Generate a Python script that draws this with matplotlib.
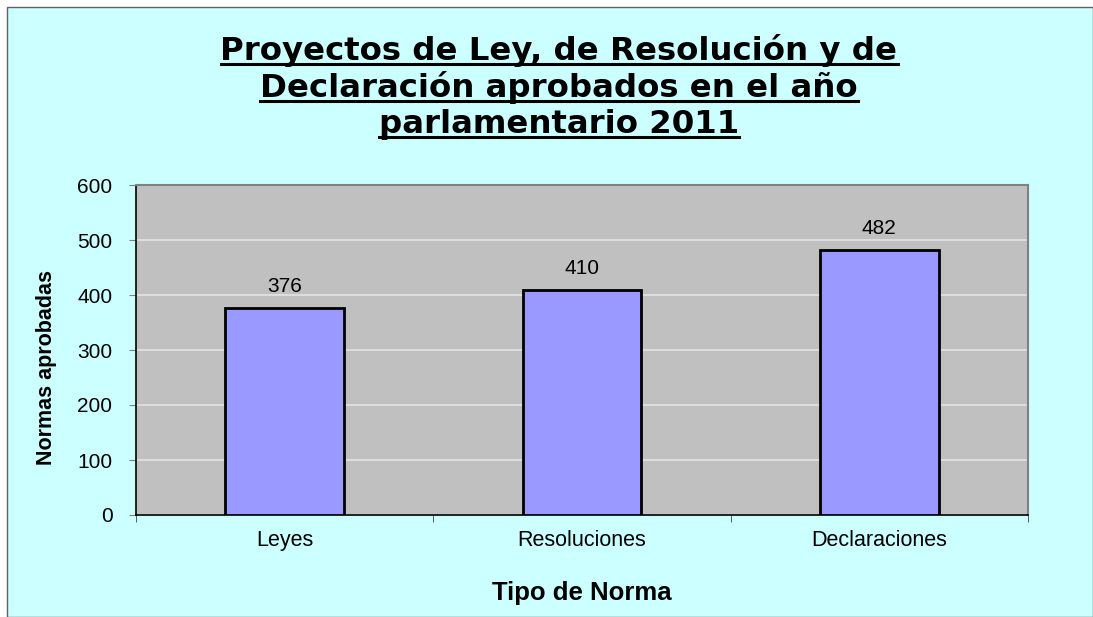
import matplotlib
matplotlib.use("Agg")
import matplotlib.pyplot as plt
from matplotlib import font_manager
from matplotlib.lines import Line2D
from matplotlib.patches import Rectangle
import numpy as np

categories = ["Leyes", "Resoluciones", "Declaraciones"]
values = [376, 410, 482]
title_lines = ["Proyectos de Ley, de Resolución y de",
               "Declaración aprobados en el año",
               "parlamentario 2011"]

plt.rcParams['font.family'] = ['Liberation Sans', 'DejaVu Sans']

installed = {f.name for f in font_manager.fontManager.ttflist}
narrow = 'Liberation Sans Narrow' in installed

fig = plt.figure(figsize=(10.93, 6.17), dpi=100)
fig.patch.set_facecolor('white')
# cyan chart area with border
fig.patches.append(Rectangle((7/1093, 0), 1 - 7/1093, 1 - 7/617, transform=fig.transFigure,
                             facecolor='#CCFFFF', edgecolor='#606060', linewidth=1, zorder=-5))

ax = fig.add_axes([136/1093, 1 - 515/617, 892/1093, 330/617])
ax.set_facecolor('#C0C0C0')
x = np.arange(len(categories))
bars = ax.bar(x, values, width=0.4, color='#9999FF', edgecolor='black', linewidth=2, zorder=3)

ax.set_xlim(-0.5, 2.5)
ax.set_ylim(0, 600)
ax.set_yticks(range(0, 601, 100))
ax.yaxis.grid(True, color='#E4E4E4', linewidth=1.2, zorder=1)
ax.set_axisbelow(True)
ax.tick_params(axis='y', labelsize=15, length=5, direction='out', color='#808080', pad=12)
ax.set_xticks(x)
ax.set_xticklabels(categories, fontsize=15.5)
ax.tick_params(axis='x', length=0, pad=11)
ax.set_xticks([-0.5, 0.5, 1.5, 2.5], minor=True)
ax.tick_params(axis='x', which='minor', length=5, color='#404040')

for s in ['top', 'right']:
    ax.spines[s].set_color('#808080')
    ax.spines[s].set_linewidth(1.5)
for s in ['left', 'bottom']:
    ax.spines[s].set_color('black')
    ax.spines[s].set_linewidth(1.2)

for b, v in zip(bars, values):
    ax.annotate(str(v), (b.get_x() + b.get_width() / 2, v), xytext=(0, 8.5),
                textcoords='offset points', ha='center', va='bottom', fontsize=15)

if narrow:
    ax.set_ylabel("Normas aprobadas", fontsize=19, fontweight='bold',
                  family=['Liberation Sans Narrow'])
else:
    ax.set_ylabel("Normas aprobadas", fontsize=15.5, fontweight='bold')
ax.yaxis.label.set_va('center')
ax.yaxis.set_label_coords(-0.1003, 0.447)
ax.set_xlabel("Tipo de Norma", fontsize=18.5, fontweight='bold')
ax.xaxis.label.set_va('center')
ax.xaxis.set_label_coords(0.5, -0.236)

# title with underline, one line at a time
fig.canvas.draw()
renderer = fig.canvas.get_renderer()
baselines = [60, 96.5, 133]
for line, yb in zip(title_lines, baselines):
    t = fig.text(559 / 1093, 1 - yb / 617, line, ha='center', va='baseline',
                 fontsize=23.3, fontweight='bold', family=['DejaVu Sans'])
    bb = t.get_window_extent(renderer)
    y_ul = (617 - yb - 4) / 617
    fig.lines.append(Line2D([bb.x0 / 1093, bb.x1 / 1093], [y_ul, y_ul], transform=fig.transFigure,
                            color='black', linewidth=2.2))

fig.savefig("out.png", dpi=100)
